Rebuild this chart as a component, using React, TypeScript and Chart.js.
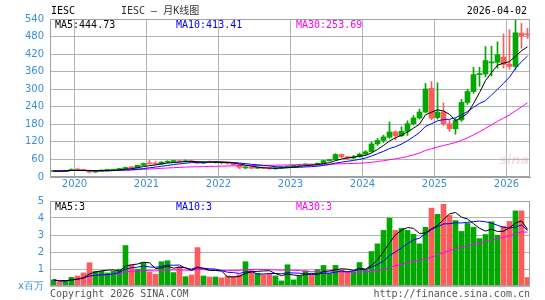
import React, { useEffect, useRef } from 'react';
import { Chart, registerables } from 'chart.js';

Chart.register(...registerables);

const months = [
  '2019-09', '2019-10', '2019-11', '2019-12',
  '2020-01', '2020-02', '2020-03', '2020-04', '2020-05', '2020-06', '2020-07', '2020-08', '2020-09', '2020-10', '2020-11', '2020-12',
  '2021-01', '2021-02', '2021-03', '2021-04', '2021-05', '2021-06', '2021-07', '2021-08', '2021-09', '2021-10', '2021-11', '2021-12',
  '2022-01', '2022-02', '2022-03', '2022-04', '2022-05', '2022-06', '2022-07', '2022-08', '2022-09', '2022-10', '2022-11', '2022-12',
  '2023-01', '2023-02', '2023-03', '2023-04', '2023-05', '2023-06', '2023-07', '2023-08', '2023-09', '2023-10', '2023-11', '2023-12',
  '2024-01', '2024-02', '2024-03', '2024-04', '2024-05', '2024-06', '2024-07', '2024-08', '2024-09', '2024-10', '2024-11', '2024-12',
  '2025-01', '2025-02', '2025-03', '2025-04', '2025-05', '2025-06', '2025-07', '2025-08', '2025-09', '2025-10', '2025-11', '2025-12',
  '2026-01', '2026-02', '2026-03', '2026-04',
];

const openPrices = [
  19.0, 20.5, 19.5, 22.5,
  26.0, 24.0, 21.5, 17.0, 20.5, 23.0, 23.5, 25.5, 29.0, 32.5, 31.0, 40.0,
  46.0, 45.0, 44.0, 50.5, 53.0, 54.5, 52.0, 55.5, 52.0, 47.0, 50.5, 50.0,
  51.5, 48.5, 47.0, 42.0, 31.0, 33.5, 30.0, 32.0, 29.5, 28.0, 30.0, 34.0,
  35.5, 40.0, 41.5, 42.5, 41.0, 47.0, 56.0, 59.0, 77.0, 69.0, 65.0, 69.0,
  78.0, 87.0, 113.0, 125.0, 136.0, 154.0, 141.0, 156.0, 182.0, 202.0, 222.0, 303.0,
  203.0, 222.0, 182.0, 165.0, 195.0, 255.0, 292.0, 350.0, 352.0, 390.0, 392.0, 410.0,
  386.0, 378.0, 492.0, 488.0,
];

const highPrices = [
  21.5, 22.0, 23.0, 28.0,
  28.5, 27.0, 23.5, 21.5, 24.0, 25.5, 26.5, 30.0, 34.0, 37.0, 41.0, 48.0,
  56.5, 53.0, 53.0, 56.0, 57.0, 57.0, 58.5, 58.0, 54.0, 52.0, 55.0, 53.0,
  53.0, 51.0, 48.5, 43.0, 35.5, 35.5, 34.0, 34.5, 31.0, 31.5, 36.0, 37.0,
  41.0, 43.5, 44.0, 45.0, 48.0, 57.5, 60.0, 80.0, 79.0, 71.0, 74.0, 82.0,
  90.0, 120.0, 132.0, 143.0, 188.0, 158.0, 172.0, 192.0, 210.0, 232.0, 320.0, 326.0,
  322.0, 253.0, 195.0, 200.0, 265.0, 300.0, 375.0, 375.0, 446.0, 447.0, 462.0, 489.0,
  503.0, 546.0, 525.0, 508.0,
];

const lowPrices = [
  18.0, 18.5, 19.0, 22.0,
  23.0, 20.5, 13.5, 15.5, 19.5, 21.0, 22.0, 24.5, 27.5, 30.0, 30.5, 38.5,
  44.0, 42.0, 42.5, 48.5, 50.0, 50.0, 50.5, 50.0, 45.5, 46.0, 48.5, 47.5,
  44.0, 43.0, 40.0, 28.5, 28.5, 28.5, 28.5, 28.5, 26.5, 26.5, 29.5, 32.5,
  35.0, 38.0, 37.5, 40.0, 40.5, 46.5, 54.0, 58.0, 66.0, 60.0, 63.0, 68.0,
  76.0, 85.0, 108.0, 118.0, 132.0, 127.0, 138.0, 142.0, 178.0, 198.0, 219.0, 196.0,
  198.0, 176.0, 156.0, 146.0, 190.0, 248.0, 286.0, 310.0, 342.0, 345.0, 372.0, 372.0,
  368.0, 366.0, 440.0, 474.0,
];

const closePrices = [
  20.5, 19.5, 22.5, 26.0,
  24.0, 21.5, 17.0, 20.5, 23.0, 23.5, 25.5, 29.0, 32.5, 31.0, 40.0, 46.0,
  45.0, 44.0, 50.5, 53.0, 54.5, 52.0, 55.5, 52.0, 47.0, 50.5, 50.0, 51.5,
  48.5, 47.0, 42.0, 33.0, 33.5, 30.0, 32.0, 29.5, 28.0, 30.0, 34.0, 35.5,
  40.0, 41.5, 42.5, 41.0, 47.0, 56.0, 58.5, 77.0, 69.0, 65.0, 69.0, 78.0,
  86.0, 113.0, 125.0, 137.0, 154.0, 141.0, 156.0, 182.0, 202.0, 222.0, 301.0, 201.0,
  222.0, 182.0, 165.0, 193.0, 255.0, 292.0, 350.0, 352.0, 398.0, 392.0, 418.0, 385.0,
  378.0, 493.0, 482.0, 486.0,
];

// volume in millions of shares
const volumes = [
  0.36, 0.24, 0.32, 0.51,
  0.59, 0.77, 1.37, 0.87, 0.87, 0.77, 0.87, 0.99, 2.38, 1.23, 0.99, 1.39,
  0.83, 0.69, 1.43, 1.49, 0.79, 1.13, 0.55, 0.65, 2.26, 0.59, 0.53, 0.53,
  0.48, 0.59, 0.55, 0.67, 1.43, 0.91, 0.75, 0.67, 0.73, 0.59, 0.30, 1.25,
  0.36, 0.57, 0.90, 0.64, 0.97, 1.21, 0.74, 1.21, 0.93, 0.86, 0.84, 1.38,
  0.94, 2.03, 2.48, 3.27, 3.99, 3.27, 3.39, 3.27, 3.04, 2.48, 3.45, 4.58,
  4.22, 4.81, 4.15, 3.85, 3.21, 3.68, 3.45, 2.79, 3.03, 3.78, 2.99, 3.52,
  3.80, 4.42, 4.42, 0.50,
];

const priceTicks = [0, 60, 120, 180, 240, 300, 360, 420, 480, 540];
const volumeTicks = [0, 1, 2, 3, 4, 5];

const headerSymbol = 'IESC';
const headerTitle = 'IESC — 月K线图';
const headerDate = '2026-04-02';
const priceMaLabels = ['MA5:444.73', 'MA10:413.41', 'MA30:253.69'];
const volumeMaLabels = ['MA5:3', 'MA10:3', 'MA30:3'];
const footerLeft = 'Copyright 2026 SINA.COM';
const footerRight = 'http://finance.sina.com.cn';

const UP = '#00a800';
const DOWN = '#ff5b5b';
const GRID = '#b4b4b4';
const FRAME = '#a0a0a0';
const TICK = '#3a8fdc';
const MA_COLORS = ['#000000', '#0000ff', '#ff00ff'];

function movingAverage(values: number[], n: number): number[] {
  return values.map((_, i) => {
    const s = Math.max(0, i - n + 1);
    let sum = 0;
    for (let j = s; j <= i; j++) sum += values[j];
    return sum / (i - s + 1);
  });
}

const framePlugin = {
  id: 'frame',
  afterDatasetsDraw(chart: any) {
    const { ctx, chartArea } = chart;
    const l = Math.round(chartArea.left) + 0.5;
    const t = Math.round(chartArea.top) + 0.5;
    const r = Math.round(chartArea.right) - 0.5;
    const b = Math.round(chartArea.bottom) - 0.5;
    ctx.save();
    ctx.strokeStyle = FRAME;
    ctx.lineWidth = 1;
    ctx.strokeRect(l, t, r - l, b - t);
    ctx.restore();
  },
};

const SLOT_SHIFT = 1 / 12;

export default function App() {
  const mainRef = useRef<HTMLCanvasElement | null>(null);
  const volRef = useRef<HTMLCanvasElement | null>(null);

  useEffect(() => {
    const n = months.length;
    const colors = closePrices.map((c, i) => (c >= openPrices[i] ? UP : DOWN));
    const xs = months.map((_, i) => i + 0.5);
    const yearStarts = months.map((m, i) => (m.endsWith('-01') ? i : -1)).filter((i) => i >= 0);

    const ma = (vals: number[], k: number) => movingAverage(vals, k).map((v, i) => ({ x: xs[i], y: v }));
    const lineDs = (label: string, data: any[], color: string) => ({
      type: 'line' as const,
      label,
      data,
      borderColor: color,
      borderWidth: 1,
      pointRadius: 0,
      tension: 0,
      fill: false,
      order: 0,
    });

    const xScaleBase = {
      type: 'linear' as const,
      min: -SLOT_SHIFT,
      max: n - SLOT_SHIFT,
      offset: false,
      bounds: 'data' as const,
    };

    const fixY = (w: number) => (scale: any) => {
      scale.width = w;
      scale.paddingTop = 0;
      scale.paddingBottom = 0;
    };

    const main = new Chart(mainRef.current as HTMLCanvasElement, {
      type: 'bar',
      data: {
        datasets: [
          lineDs('MA5', ma(closePrices, 5), MA_COLORS[0]),
          lineDs('MA10', ma(closePrices, 10), MA_COLORS[1]),
          lineDs('MA30', ma(closePrices, 30), MA_COLORS[2]),
          {
            type: 'bar',
            label: 'range',
            data: xs.map((x, i) => ({ x, y: [lowPrices[i], highPrices[i]] })),
            backgroundColor: colors,
            barThickness: 1,
            grouped: false,
            order: 2,
          } as any,
          {
            type: 'bar',
            label: 'body',
            data: xs.map((x, i) => ({ x, y: [openPrices[i], closePrices[i]] })),
            backgroundColor: colors,
            barThickness: 5,
            minBarLength: 1,
            grouped: false,
            order: 1,
          } as any,
        ],
      },
      options: {
        animation: false,
        responsive: false,
        maintainAspectRatio: false,
        devicePixelRatio: 1,
        layout: { padding: { left: 0, right: 15, top: 19, bottom: 0 } },
        plugins: { legend: { display: false }, tooltip: { enabled: false } },
        scales: {
          x: {
            ...xScaleBase,
            afterBuildTicks: (scale: any) => {
              scale.ticks = yearStarts.map((v) => ({ value: v }));
            },
            afterFit: (scale: any) => {
              scale.height = 18;
              scale.paddingLeft = 0;
              scale.paddingRight = 0;
            },
            grid: { color: GRID, drawTicks: false, offset: false },
            border: { color: FRAME },
            ticks: {
              color: TICK,
              padding: 1,
              maxRotation: 0,
              autoSkip: false,
              font: { family: 'DejaVu Sans', size: 10 },
              callback: (v: any) => {
                const m = months[Math.round(Number(v))];
                return m ? m.slice(0, 4) : '';
              },
            },
          },
          y: {
            min: 0,
            max: 540,
            afterBuildTicks: (scale: any) => {
              scale.ticks = priceTicks.map((v) => ({ value: v }));
            },
            afterFit: fixY(50),
            grid: { color: GRID, drawTicks: false },
            border: { color: FRAME },
            ticks: {
              color: TICK,
              padding: 6,
              font: { family: 'DejaVu Sans', size: 10 },
            },
          },
        },
      } as any,
      plugins: [framePlugin],
    });

    const vol = new Chart(volRef.current as HTMLCanvasElement, {
      type: 'bar',
      data: {
        datasets: [
          lineDs('MA5', ma(volumes, 5), MA_COLORS[0]),
          lineDs('MA10', ma(volumes, 10), MA_COLORS[1]),
          lineDs('MA30', ma(volumes, 30), MA_COLORS[2]),
          {
            type: 'bar',
            label: 'volume',
            data: xs.map((x, i) => ({ x, y: volumes[i] })),
            backgroundColor: colors,
            barThickness: 5,
            grouped: false,
            order: 1,
          } as any,
        ],
      },
      options: {
        animation: false,
        responsive: false,
        maintainAspectRatio: false,
        devicePixelRatio: 1,
        layout: { padding: { left: 0, right: 15, top: 6, bottom: 14 } },
        plugins: { legend: { display: false }, tooltip: { enabled: false } },
        scales: {
          x: { ...xScaleBase, display: false, grid: { offset: false } },
          y: {
            min: 0,
            max: 5,
            afterBuildTicks: (scale: any) => {
              scale.ticks = volumeTicks.map((v) => ({ value: v }));
            },
            afterFit: fixY(50),
            grid: { color: GRID, drawTicks: false },
            border: { color: FRAME },
            ticks: {
              color: TICK,
              padding: 6,
              font: { family: 'DejaVu Sans', size: 10 },
              callback: (v: any) => (Number(v) === 0 ? 'x百万' : String(v)),
            },
          },
        },
      } as any,
      plugins: [framePlugin],
    });

    return () => {
      main.destroy();
      vol.destroy();
    };
  }, []);

  const mono = '"DejaVu Sans Mono", "Noto Sans CJK SC", monospace';
  const txt = (left: number, top: number, color: string, s: string, extra: any = {}) => (
    <div
      style={{
        position: 'absolute',
        left,
        top,
        color,
        font: `10px ${mono}`,
        lineHeight: '12px',
        whiteSpace: 'pre',
        ...extra,
      }}
    >
      {s}
    </div>
  );

  return (
    <div style={{ position: 'absolute', left: 0, top: 0, width: 545, height: 300, background: '#fff', overflow: 'hidden' }}>
      <canvas ref={mainRef} width={545} height={195} style={{ position: 'absolute', left: 0, top: 0, width: 545, height: 195 }} />
      <canvas ref={volRef} width={545} height={105} style={{ position: 'absolute', left: 0, top: 195, width: 545, height: 105 }} />
      {txt(51, 5, '#000', headerSymbol)}
      {txt(121, 5, '#333', headerTitle)}
      {txt(0, 5, '#000', headerDate, { left: 'auto', right: 18, textAlign: 'right' })}
      {txt(55, 19, MA_COLORS[0], priceMaLabels[0])}
      {txt(176, 19, MA_COLORS[1], priceMaLabels[1])}
      {txt(296, 19, MA_COLORS[2], priceMaLabels[2])}
      {txt(55, 201, MA_COLORS[0], volumeMaLabels[0])}
      {txt(176, 201, MA_COLORS[1], volumeMaLabels[1])}
      {txt(296, 201, MA_COLORS[2], volumeMaLabels[2])}
      {txt(50, 288, '#555', footerLeft)}
      {txt(0, 288, '#555', footerRight, { left: 'auto', right: 15, textAlign: 'right' })}
      <div
        style={{
          position: 'absolute',
          left: 499,
          top: 152,
          color: 'rgba(220,170,170,0.35)',
          font: 'italic bold 13px "DejaVu Sans", sans-serif',
        }}
      >
        sina
      </div>
    </div>
  );
}
